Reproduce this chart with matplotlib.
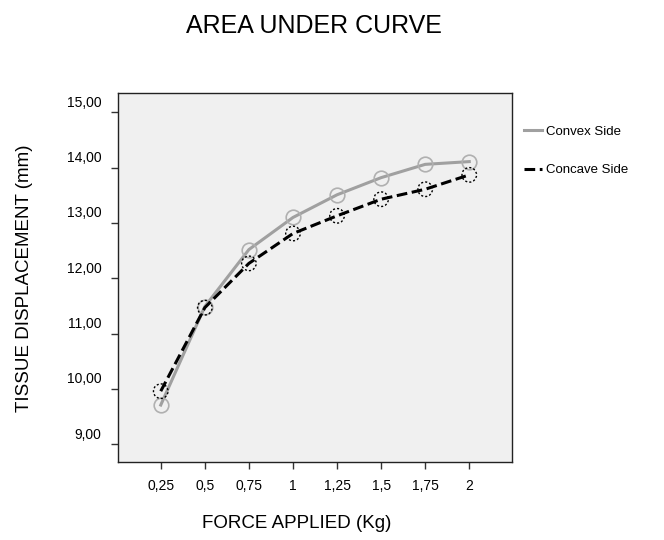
import matplotlib.pyplot as plt
from matplotlib.transforms import ScaledTranslation

plt.rcParams['font.family'] = ['Liberation Sans', 'DejaVu Sans']

force_labels = ['0,25', '0,5', '0,75', '1', '1,25', '1,5', '1,75', '2']
convex = [9.71, 11.49, 12.52, 13.10, 13.51, 13.82, 14.06, 14.11]
concave = [9.96, 11.47, 12.27, 12.81, 13.13, 13.43, 13.61, 13.87]
y_ticks = [9, 10, 11, 12, 13, 14, 15]
y_labels = ['9,00', '10,00', '11,00', '12,00', '13,00', '14,00', '15,00']

fig = plt.figure(figsize=(6.64, 5.4), dpi=100)
ax = fig.add_axes([118 / 664, 1 - 462 / 540, (512 - 118) / 664, (462 - 93) / 540])
ax.set_facecolor('#f0f0f0')

x = list(range(1, len(force_labels) + 1))
ax.plot(x, convex, color='#a0a0a0', lw=2.2, marker='o', ms=10.5,
        mfc='none', mec='#b0b0b0', mew=1.2, label='Convex Side')
ax.plot(x, concave, color='black', lw=2.2, ls=(0, (3.5, 1.5)), label='Concave Side')
# dotted circle markers for the concave side
ax.scatter(x, concave, s=110, facecolors='none', edgecolors='black',
           linewidths=1.0, linestyles=(0, (1.5, 1.5)), zorder=3)

ax.set_xlim(0.03, 8.97)
ax.set_ylim(8.68, 15.35)
ax.set_xticks(x)
ax.set_xticklabels(force_labels, fontsize=10)
ax.set_yticks(y_ticks)
ax.set_yticklabels(y_labels, fontsize=10)
ax.tick_params(direction='out', length=5, width=1, color='#333333', pad=7)
ax.tick_params(axis='x', pad=7)
for lab in ax.get_yticklabels():
    lab.set_transform(lab.get_transform() + ScaledTranslation(0, 8 / 72, fig.dpi_scale_trans))
for sp in ax.spines.values():
    sp.set_color('#222222')
    sp.set_linewidth(1)

fig.text(314 / 664, 1 - 26 / 540, 'AREA UNDER CURVE', ha='center', va='center', fontsize=18)
fig.text(297 / 664, 1 - 523 / 540, 'FORCE APPLIED (Kg)', ha='center', va='center', fontsize=13.5)
fig.text(25 / 664, 1 - 278 / 540, 'TISSUE DISPLACEMENT (mm)', ha='center', va='center',
         rotation=90, fontsize=13.5)

leg = ax.legend(loc='upper left', bbox_to_anchor=(1.0, 0.944), frameon=False,
                fontsize=9.5, handlelength=1.4, labelspacing=2.0, handletextpad=0.3)
for h in leg.legend_handles:
    h.set_marker('')

fig.savefig('out.png', dpi=100)
